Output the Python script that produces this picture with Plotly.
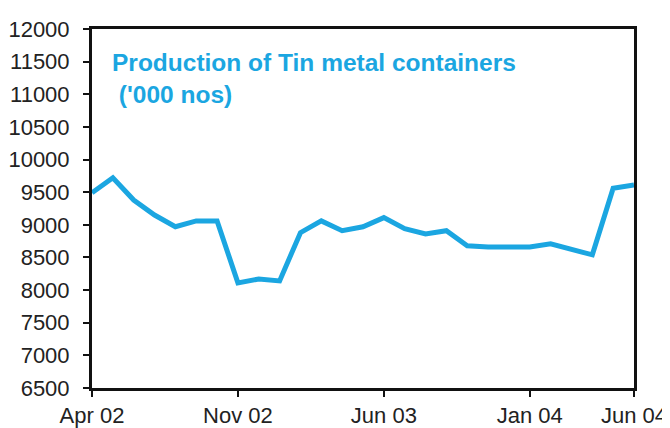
import plotly.graph_objects as go

# monthly production, Apr 2002 - Jun 2004 ('000 nos)
months = ["Apr 02", "May 02", "Jun 02", "Jul 02", "Aug 02", "Sep 02", "Oct 02", "Nov 02", "Dec 02",
          "Jan 03", "Feb 03", "Mar 03", "Apr 03", "May 03", "Jun 03", "Jul 03", "Aug 03", "Sep 03",
          "Oct 03", "Nov 03", "Dec 03", "Jan 04", "Feb 04", "Mar 04", "Apr 04", "May 04", "Jun 04"]
production = [9490, 9720, 9380, 9150, 8970, 9060, 9060, 8110, 8170,
              8140, 8880, 9060, 8910, 8970, 9110, 8940, 8860, 8910,
              8680, 8660, 8660, 8660, 8710, 8620, 8540, 9560, 9610]
tick_months = ["Apr 02", "Nov 02", "Jun 03", "Jan 04", "Jun 04"]

blue = "#1ba6e1"
font = "Liberation Sans, Arial, sans-serif"

fig = go.Figure()
fig.add_trace(go.Scatter(x=months, y=production, mode="lines",
                         line=dict(color=blue, width=5), hoverinfo="x+y"))

fig.add_annotation(text="Production of Tin metal containers<br> ('000 nos)",
                   xref="paper", yref="paper", x=0.034, y=0.95,
                   xanchor="left", yanchor="top", align="left", showarrow=False,
                   font=dict(family=font, size=24.5, color=blue, weight="bold"))

fig.update_xaxes(type="category", range=[0, 26], tickvals=tick_months, ticktext=tick_months,
                 showgrid=False, zeroline=False, showline=True, linecolor="#111", linewidth=3,
                 mirror=True, ticks="outside", ticklen=6, tickwidth=2, tickcolor="#111",
                 automargin=False,
                 tickfont=dict(family=font, size=22, color="#222"))
fig.update_yaxes(range=[6500, 12000], dtick=500, tickformat="d", showgrid=False, zeroline=False,
                 showline=True, linecolor="#111", linewidth=3, mirror=True,
                 ticks="outside", ticklen=6, tickwidth=2, tickcolor="#111",
                 ticklabelstandoff=9, automargin=False,
                 tickfont=dict(family=font, size=22, color="#222"))

# the page body adds an 8px offset, so the figure is sized to fit the window
fig.update_layout(width=662, height=420, showlegend=False,
                  margin=dict(l=84, r=36, t=21, b=40),
                  paper_bgcolor="white", plot_bgcolor="white")

fig.write_html("out.html")
